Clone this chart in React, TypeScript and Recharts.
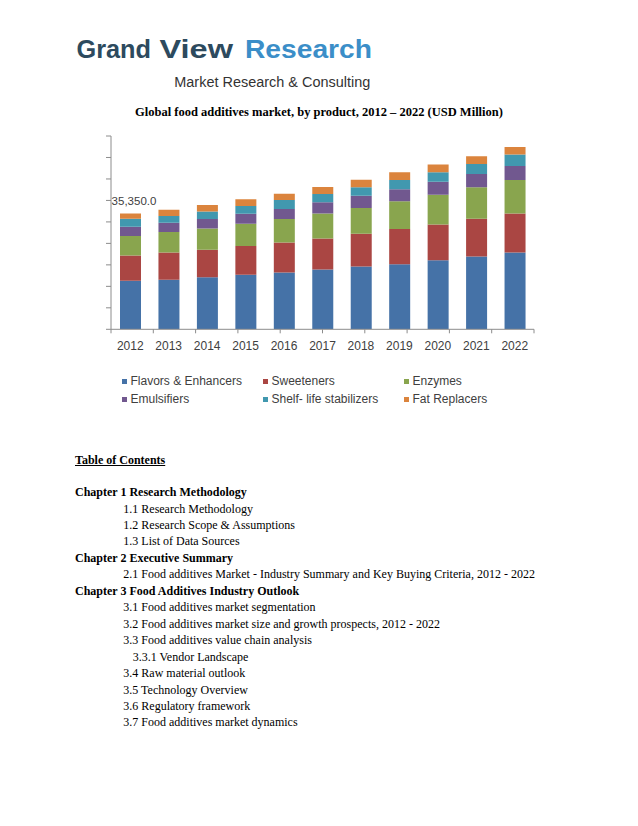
import React from 'react';
import { BarChart, Bar, XAxis, YAxis, Legend, LabelList } from 'recharts';

const YEARS = ['2012', '2013', '2014', '2015', '2016', '2017', '2018', '2019', '2020', '2021', '2022'];
const FLAVORS = [14771, 15077, 15892, 16605, 17318, 18235, 19152, 19865, 21087, 22208, 23430];
const SWEETENERS = [7742, 8353, 8353, 8761, 9168, 9474, 9983, 10696, 10900, 11511, 11919];
const ENZYMES = [5909, 6214, 6520, 6825, 7131, 7640, 7844, 8455, 9066, 9576, 10187];
const EMULSIFIERS = [2852, 2852, 2852, 3056, 3056, 3362, 3769, 3667, 3973, 4075, 4279];
const SHELF_LIFE = [2445, 2037, 2343, 2343, 2750, 2547, 2547, 2852, 2852, 3056, 3464];
const FAT_REPLACERS = [1631, 1936, 1936, 2037, 1936, 2139, 2343, 2343, 2343, 2343, 2343];

const Y_MAX = 58950;
const Y_TICKS = [0, 6550, 13100, 19650, 26200, 32750, 39300, 45850, 52400, 58950];

const SERIES = [
  { key: 'flavors', name: 'Flavors & Enhancers', values: FLAVORS, color: '#4572A7' },
  { key: 'sweeteners', name: 'Sweeteners', values: SWEETENERS, color: '#AA4643' },
  { key: 'enzymes', name: 'Enzymes', values: ENZYMES, color: '#89A54E' },
  { key: 'emulsifiers', name: 'Emulsifiers', values: EMULSIFIERS, color: '#71588F' },
  { key: 'shelf', name: 'Shelf- life stabilizers', values: SHELF_LIFE, color: '#4198AF' },
  { key: 'fat', name: 'Fat Replacers', values: FAT_REPLACERS, color: '#DB843D' },
];

const TOC_LINES: { text: string; bold?: boolean; indent: number }[] = [
  { text: 'Chapter 1 Research Methodology', bold: true, indent: 0 },
  { text: '1.1 Research Methodology', indent: 1 },
  { text: '1.2 Research Scope & Assumptions', indent: 1 },
  { text: '1.3 List of Data Sources', indent: 1 },
  { text: 'Chapter 2 Executive Summary', bold: true, indent: 0 },
  { text: '2.1 Food additives Market - Industry Summary and Key Buying Criteria, 2012 - 2022', indent: 1 },
  { text: 'Chapter 3 Food Additives Industry Outlook', bold: true, indent: 0 },
  { text: '3.1 Food additives market segmentation', indent: 1 },
  { text: '3.2 Food additives market size and growth prospects, 2012 - 2022', indent: 1 },
  { text: '3.3 Food additives value chain analysis', indent: 1 },
  { text: '3.3.1 Vendor Landscape', indent: 2 },
  { text: '3.4 Raw material outlook', indent: 1 },
  { text: '3.5 Technology Overview', indent: 1 },
  { text: '3.6 Regulatory framework', indent: 1 },
  { text: '3.7 Food additives market dynamics', indent: 1 },
];

const data = YEARS.map((year, i) => {
  const row: Record<string, string | number> = { year };
  SERIES.forEach((s) => {
    row[s.key] = s.values[i];
  });
  return row;
});

const EDGE_TICKS = [...YEARS.map((_, i) => i), YEARS.length];

const SANS = '"Liberation Sans", Arial, sans-serif';
const SERIF = '"Liberation Serif", "Times New Roman", serif';
const AXIS_COLOR = '#8c8c8c';

const TotalLabel = (props: any) => {
  const { x, y, width, index } = props;
  if (index !== 0) return null;
  const total = SERIES.reduce((sum, s) => sum + s.values[0], 0);
  return (
    <text
      x={Number(x) + Number(width) / 2 + 3.5}
      y={Number(y) - 8}
      textAnchor="middle"
      fontSize={11.5}
      fontFamily={SANS}
      fill="#404040"
    >
      {total.toLocaleString('en-US', { minimumFractionDigits: 1, maximumFractionDigits: 1 })}
    </text>
  );
};

const LegendContent = () => {
  return (
    <div
      style={{
        display: 'grid',
        gridTemplateColumns: '141px 141px 141px',
        fontFamily: SANS,
        fontSize: 12,
        lineHeight: '17.6px',
        color: '#404040',
        whiteSpace: 'nowrap',
      }}
    >
      {SERIES.map((s) => (
        <div key={s.key} style={{ display: 'flex', alignItems: 'center' }}>
          <span
            style={{
              display: 'inline-block',
              width: 5,
              height: 5,
              background: s.color,
              marginRight: 3.5,
            }}
          />
          <span>{s.name}</span>
        </div>
      ))}
    </div>
  );
};

const Blank = () => <g />;

export default function App() {
  return (
    <div
      style={{
        position: 'absolute',
        left: 0,
        top: 0,
        width: 638,
        height: 826,
        background: '#ffffff',
        overflow: 'hidden',
      }}
    >
      <svg width={638} height={100} style={{ position: 'absolute', left: 0, top: 0 }}>
        <g fontFamily={SANS} fontWeight="bold" fontSize={25}>
          <text x={76.5} y={57.7} fill="#2D4A5E" textLength={74.5} lengthAdjust="spacingAndGlyphs">
            Grand
          </text>
          <text x={159.5} y={57.7} fill="#2D4A5E" textLength={73.5} lengthAdjust="spacingAndGlyphs">
            View
          </text>
          <text x={245} y={57.7} fill="#3B8EC8" textLength={127} lengthAdjust="spacingAndGlyphs">
            Research
          </text>
        </g>
        <text
          x={174.3}
          y={86.5}
          fontFamily={SANS}
          fontSize={14}
          fill="#333333"
          textLength={196}
          lengthAdjust="spacingAndGlyphs"
        >
          Market Research &amp; Consulting
        </text>
      </svg>

      <div
        style={{
          position: 'absolute',
          left: 0,
          top: 103.7,
          width: 638,
          textAlign: 'center',
          fontFamily: SERIF,
          fontWeight: 'bold',
          fontSize: 12.5,
          lineHeight: '16px',
          color: '#000',
        }}
      >
        Global food additives market, by product, 2012 – 2022 (USD Million)
      </div>

      <div style={{ position: 'absolute', left: 90, top: 125 }}>
        <BarChart
          width={460}
          height={290}
          data={data}
          margin={{ top: 11, right: 16, left: 0, bottom: 64.7 }}
          barSize={21}
        >
          <XAxis
            xAxisId="b_cat"
            dataKey="year"
            type="category"
            height={20}
            interval={0}
            axisLine={false}
            tickLine={false}
            tickSize={0}
            tickMargin={11}
            tick={{ fill: '#404040', fontSize: 12, fontFamily: SANS }}
          />
          <XAxis
            xAxisId="a_edges"
            type="number"
            domain={[0, YEARS.length]}
            ticks={EDGE_TICKS}
            interval={0}
            height={1}
            tickSize={4}
            tick={Blank}
            axisLine={{ stroke: AXIS_COLOR }}
            tickLine={{ stroke: AXIS_COLOR }}
            allowDataOverflow
          />
          <YAxis
            width={21}
            domain={[0, Y_MAX]}
            ticks={Y_TICKS}
            interval={0}
            tickSize={5}
            tick={Blank}
            axisLine={{ stroke: AXIS_COLOR }}
            tickLine={{ stroke: AXIS_COLOR }}
            allowDataOverflow
          />
          <Legend
            layout="horizontal"
            verticalAlign="middle"
            align="center"
            wrapperStyle={{ top: 248, left: 32, width: 430 }}
            content={LegendContent}
          />
          {SERIES.map((s, i) => (
            <Bar
              key={s.key}
              xAxisId="b_cat"
              dataKey={s.key}
              name={s.name}
              stackId="total"
              fill={s.color}
              isAnimationActive={false}
            >
              {i === SERIES.length - 1 && <LabelList dataKey={s.key} content={TotalLabel} />}
            </Bar>
          ))}
        </BarChart>
      </div>

      <div
        style={{
          position: 'absolute',
          left: 75,
          top: 452,
          fontFamily: SERIF,
          fontWeight: 'bold',
          fontSize: 12,
          lineHeight: '16px',
          textDecoration: 'underline',
          color: '#000',
          whiteSpace: 'nowrap',
        }}
      >
        Table of Contents
      </div>

      <div
        style={{
          position: 'absolute',
          left: 75,
          top: 484.1,
          fontFamily: SERIF,
          fontSize: 12,
          lineHeight: '16.45px',
          color: '#000',
          whiteSpace: 'nowrap',
        }}
      >
        {TOC_LINES.map((l, i) => (
          <div
            key={i}
            style={{
              fontWeight: l.bold ? 'bold' : 'normal',
              paddingLeft: l.indent === 0 ? 0 : l.indent === 1 ? 48.3 : 57.7,
            }}
          >
            {l.text}
          </div>
        ))}
      </div>
    </div>
  );
}
